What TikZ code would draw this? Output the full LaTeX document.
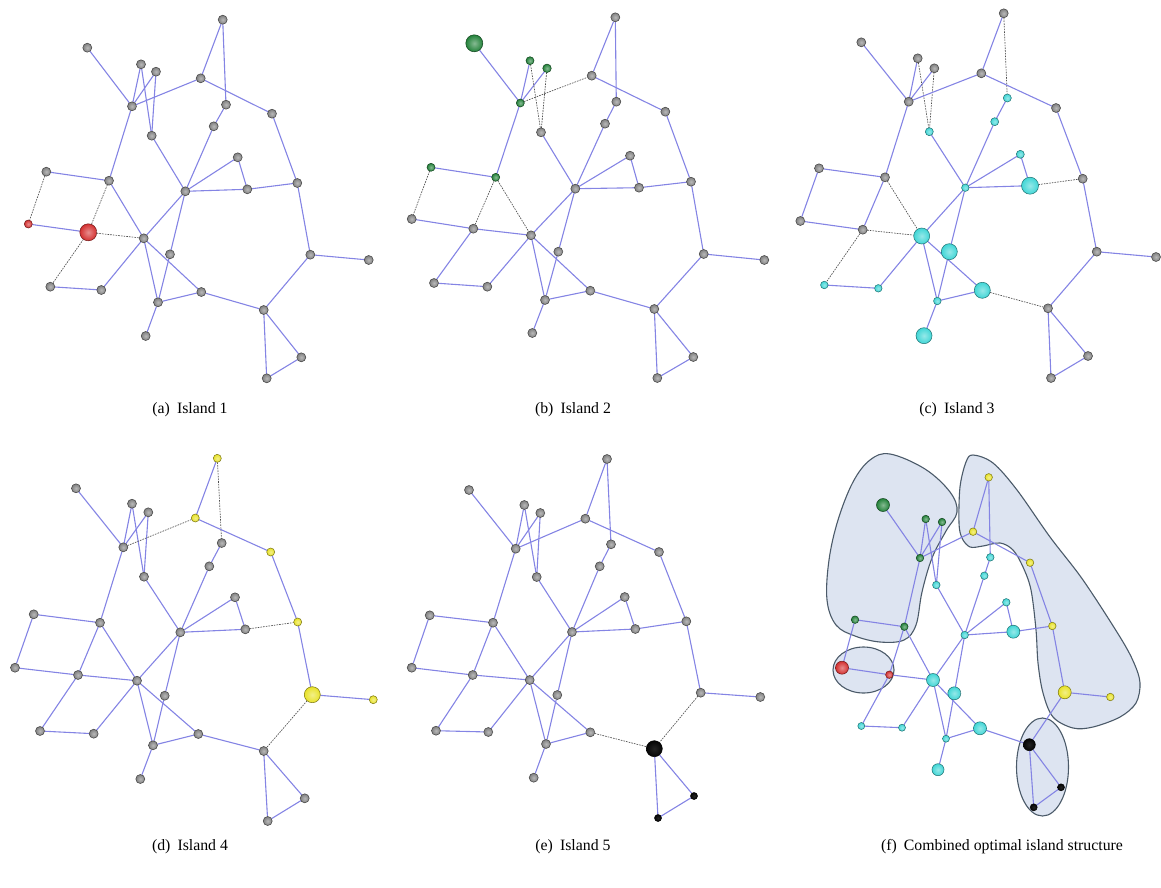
\documentclass[tikz,border=0pt]{standalone}
\usepackage{fontspec}
\setmainfont{Liberation Serif}
\pgfdeclarelayer{blobs}
\pgfdeclarelayer{wires}
\pgfsetlayers{blobs,wires,main}

\definecolor{edgeblue}{RGB}{132,132,228}
\definecolor{isl0}{RGB}{128,128,128}
\definecolor{isl1}{RGB}{212,48,48}
\definecolor{isl2}{RGB}{35,130,58}
\definecolor{isl3}{RGB}{64,214,214}
\definecolor{isl4}{RGB}{232,226,40}
\definecolor{isl5}{RGB}{5,5,5}
\definecolor{blobfill}{RGB}{221,228,241}
\definecolor{blobline}{RGB}{75,90,105}

\tikzset{
  bus/.style={circle, inner sep=0pt, outer sep=0pt, line width=0.55pt},
  line/.style={edgeblue, line width=1.1pt},
  cut/.style={black!70, line width=0.65pt, dash pattern=on 1.6pt off 1.1pt},
  blob/.style={fill=blobfill, draw=blobline, line width=1.1pt},
  caption/.style={font=\fontsize{15.8}{18}\selectfont, anchor=base, inner sep=0pt},
}

% island of every bus (1..5)
\def\islands{{4,2,2,2,4,2,3,4,3,3,3,2,2,3,3,4,1,1,3,3,4,4,3,3,3,3,5,3,5,5}}
% branches of the network
\def\edges{1/5,1/7,2/6,3/6,4/6,3/10,4/10,6/5,5/8,7/9,9/14,10/14,6/13,12/13,14/11,11/15,14/15,15/16,8/16,16/21,21/22,21/27,12/17,13/18,17/18,18/19,18/23,23/24,24/19,13/19,19/14,14/20,20/26,19/26,19/25,25/26,25/27,27/29,27/30,29/30,26/28}

% bus positions x/y/diameter for each panel
\def\posa{222.7/19.7/9, 87.3/47.7/9, 141/64.3/9, 156/71.7/9, 200.7/78.3/9, 132/106.3/9, 226/104.7/9, 272/113.7/9, 213.7/126.3/9, 151.7/135.7/9, 237.7/157.3/9, 46.3/171.7/9, 109/180.7/9, 185.3/191.3/9, 247.3/189.3/9, 297.3/183/9, 28.3/224/8, 88.3/232.3/17, 143.7/238.3/9, 170/254.3/9, 310.3/254.7/9, 368.7/260/9, 50.3/286.7/9, 101.3/290/9, 201.3/292/9, 158/302.3/9, 263.7/310/9, 145.7/336/9, 301.3/357.3/9, 266.7/378.3/9}
\def\posb{615.3/17.3/9, 474.3/43.3/17, 530/60.7/8, 547/68.3/8.5, 591.7/75.7/9, 520.3/103/8, 616.3/101.7/9, 665.3/111.7/9, 605/123.7/9, 541/132.3/9, 630/155.7/9, 431/167.3/8, 495.7/177.3/8, 575.3/188.7/9, 639/187.7/9, 691/181.7/9, 411.7/219/9, 473.3/228.7/9, 531/235.3/9, 558.3/251.7/9, 703.7/254/9, 764.3/260/9, 434/283/9, 487.3/286.7/9, 590.3/290.7/9, 545/300/9, 654.3/309/9, 532.3/333/9, 693.3/357/9, 657.3/378/9}
\def\posc{1003.7/13.3/9, 861.3/42.3/9, 917.7/58.3/9, 934.3/68.3/9, 981.3/73.3/9, 908.7/101.7/9, 1007.3/98/8, 1056/108/9, 994.7/121.7/8, 929.3/131.7/8, 1020.3/154.3/8, 819/168.3/9, 885/177.3/9, 965.3/187.7/7.5, 1030/185.7/17, 1082.7/178.7/9, 800.3/221/9, 862.7/229.7/9, 921.7/236/16, 949.3/251.7/16, 1096.7/251.7/9, 1156/257/9, 824.3/285/7.5, 878.3/288.3/7.5, 982.3/290.3/16, 937.3/301/7.5, 1048/308.3/9, 924/335.7/16, 1088/356/9, 1051/378/9}
\def\posd{217.3/458.3/8, 76/488.3/9, 132/503.7/9, 148.3/512.3/9, 195.3/518/8, 123.3/547.3/9, 221.7/543/9, 270.7/552/8, 209.3/566.3/9, 144/576.7/9, 235/597.3/9, 33.7/614.3/9, 100/622.7/9, 180.3/632.3/9, 245.3/629.3/9, 297.7/622/8, 15/667.7/9, 78/675/9, 137/680.7/9, 164.7/695.7/9, 312.3/694.7/16, 373.3/699.7/8, 40/731/9, 93.7/733.7/9, 198.3/734/9, 153/745.3/9, 263.7/751/9, 140.3/779/9, 304.7/798.3/9, 267.7/821/9}
\def\pose{607/459/9, 469/490/9, 524.3/505/9, 540.3/513/9, 585.3/518.7/9, 515.7/548.7/9, 611/544.3/9, 659/552/9, 599.7/566.3/9, 536.7/577/9, 624.7/597/9, 429.7/615.3/9, 493/622.7/9, 572/632/9, 635.3/629/9, 686.3/621.3/9, 411.7/667.7/9, 472.7/675/9, 529.7/680/9, 557.3/695/9, 700.7/692.7/9, 760.3/697/9, 436/730.7/9, 488.3/732/9, 590.3/732.3/9, 546/744/9, 654.3/748.7/16, 533.7/777.7/9, 694/796/7, 658/818/7}
\def\posf{988.7/477.3/7.5, 883/505/13, 925.7/519/7.5, 942/522/7.5, 973/531.7/7.5, 920/558/7.5, 990.3/557.3/7.5, 1030/562.7/7.5, 984.3/575.7/7.5, 936.3/585/7.5, 1006.3/602.3/7.5, 855/619.7/7.5, 904.3/626.7/7.5, 964.7/635/7.5, 1013.3/631.7/13, 1052.3/626/7.5, 842/667.7/13, 889.3/674.7/7.5, 933/680/13, 954.3/693.3/13, 1064.7/692.3/13, 1110.3/697/7.5, 861.3/726/7, 902/727.7/7, 980/728.3/13, 946/738.7/7, 1029.3/744.7/12, 938/769.7/12, 1061/787.3/7, 1033.7/807.3/7}

% #1 name prefix, #2 positions, #3 island to highlight (6 = every island)
\newcommand\drawnet[3]{%
  \foreach \x/\y/\d [count=\i] in #2 {
    \pgfmathtruncatemacro\k{\islands[\i-1]}
    \ifnum#3=6 \def\c{isl\k}\else\ifnum\k=#3 \def\c{isl\k}\else\def\c{isl0}\fi\fi
    \def\hl{55}%
    \ifnum#3=6 \ifnum\k=5 \def\hl{88}\fi\else\ifnum\k=#3 \ifnum\k=5 \def\hl{88}\fi\fi\fi
    \node[bus, minimum size=\d pt, inner color=\c!\hl!white, outer color=\c,
          draw=\c!55!black] (#1\i) at (\x,\y) {};
  }
  \begin{pgfonlayer}{wires}
  \foreach \u/\v in \edges {
    \pgfmathtruncatemacro\ku{\islands[\u-1]}
    \pgfmathtruncatemacro\kv{\islands[\v-1]}
    \pgfmathtruncatemacro\cutq{((\ku==#3)!=(\kv==#3))}
    \ifnum\cutq=1 \draw[cut] (#1\u) -- (#1\v);\else\draw[line] (#1\u) -- (#1\v);\fi
  }
  \end{pgfonlayer}
}

\begin{document}
\begin{tikzpicture}[x=1pt, y=-1pt]
\useasboundingbox (0,0) rectangle (1161,888);

\drawnet{a}{\posa}{1}
\drawnet{b}{\posb}{2}
\drawnet{c}{\posc}{3}
\drawnet{d}{\posd}{4}
\drawnet{e}{\pose}{5}
\drawnet{f}{\posf}{6}

% island outlines of the combined structure
\begin{pgfonlayer}{blobs}
\draw[blob] plot[smooth cycle, tension=0.6] coordinates {(890,454) (925,469) (950,492) (957,512) (946,531) (932,558) (922,592) (916,625) (904,640) (880,642) (855,636) (836,625) (827,600) (829,560) (838,520) (853,482) (870,460)};
\draw[blob] plot[smooth cycle, tension=0.55] coordinates {(973,455) (993,463) (1017,490) (1050,537) (1083,580) (1120,637) (1134,663) (1140,683) (1136,703) (1120,717) (1093,727) (1073,728) (1053,717) (1043,693) (1038,663) (1036,630) (1031,590) (1023,567) (1013,550) (1000,543) (983,546) (970,547) (962,538) (959,523) (960,487) (966,462)};
\draw[blob] (863.5,670) ellipse [x radius=30.5, y radius=23];
\draw[blob] (1042.5,767) ellipse [x radius=26, y radius=49];
\end{pgfonlayer}

\node[caption] (capa) at (190,413) {(a)\hskip0.45em Island 1};
\node[caption] (capb) at (573,413) {(b)\hskip0.45em Island 2};
\node[caption] (capc) at (957,413) {(c)\hskip0.45em Island 3};
\node[caption] (capd) at (190,850) {(d)\hskip0.45em Island 4};
\node[caption] (cape) at (573,850) {(e)\hskip0.45em Island 5};
\node[caption] (capf) at (1002,850) {(f)\hskip0.45em Combined optimal island structure};
\end{tikzpicture}
\end{document}
